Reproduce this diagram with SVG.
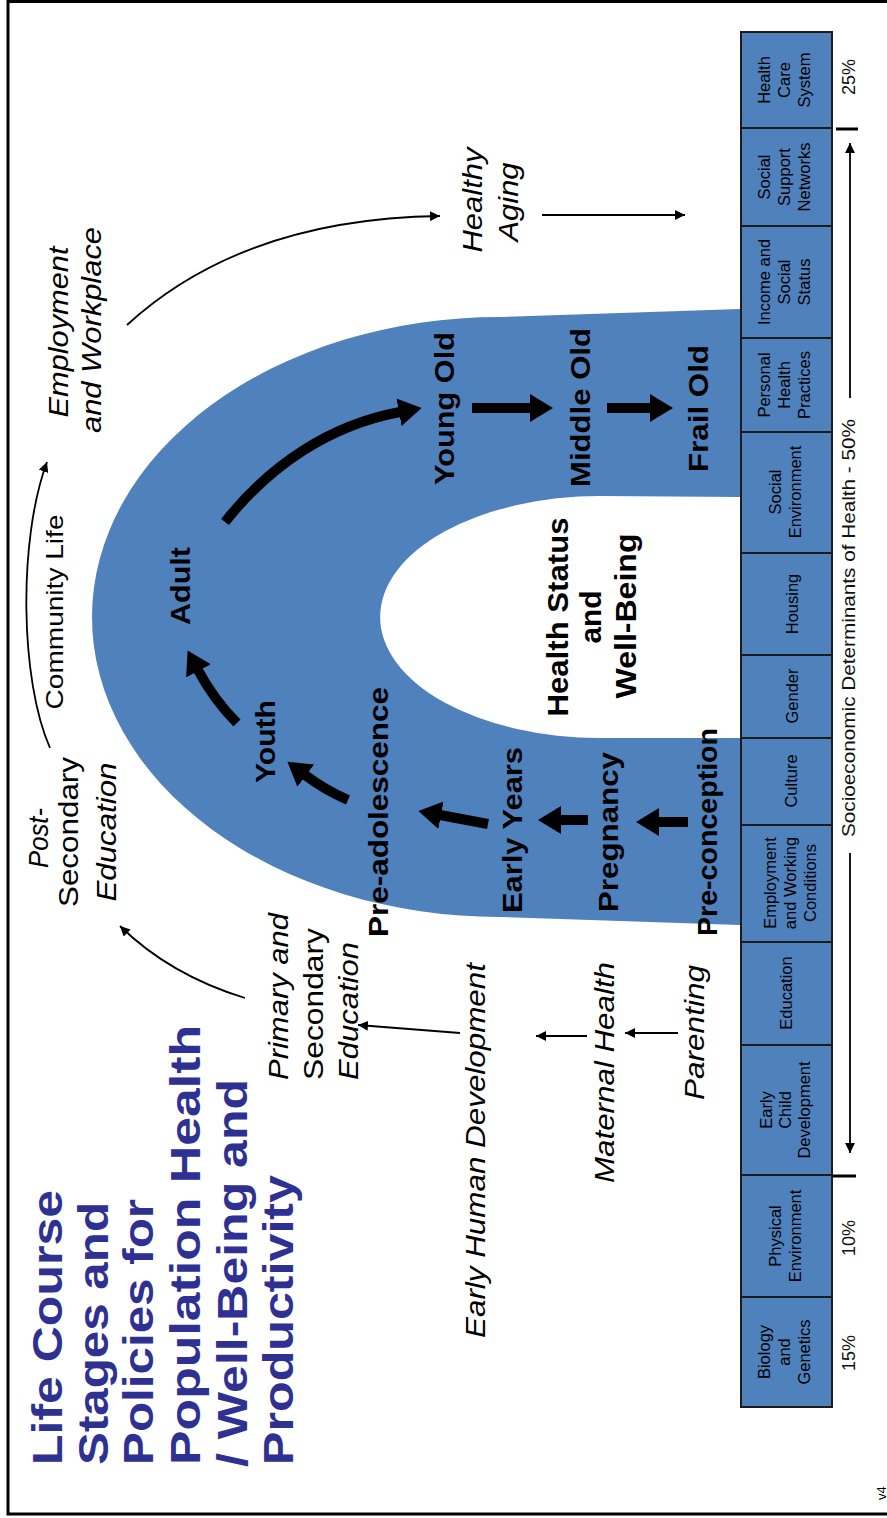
<svg xmlns="http://www.w3.org/2000/svg" width="887" height="1518" viewBox="0 0 887 1518">
<defs>
<style>
text{font-family:"Liberation Sans",Arial,Helvetica,sans-serif;fill:#000;}
.title{font-size:42px;font-weight:bold;fill:#2e3192;}
.stage{font-size:27px;font-weight:bold;}
.pol{font-size:27px;font-style:italic;}
.polu{font-size:27px;}
.cell{font-size:16.5px;text-anchor:middle;}
.pct{font-size:18px;text-anchor:middle;fill:#111;}
.mid{text-anchor:middle;}
.cellbox{fill:#4F81BD;stroke:#1c1c1c;stroke-width:2;}
.thick{stroke:#000;stroke-width:10;fill:none;marker-end:url(#hd);}
.thin{stroke:#000;stroke-width:1.8;fill:none;marker-end:url(#ht);}
.tick{stroke:#000;stroke-width:3;}
</style>
<marker id="hd" markerUnits="userSpaceOnUse" markerWidth="24" markerHeight="28" refX="1" refY="14" orient="auto" viewBox="0 0 24 28">
<path d="M0,0 L23,14 L0,28 Z" fill="#000"/>
</marker>
<marker id="ht" markerUnits="userSpaceOnUse" markerWidth="11" markerHeight="10" refX="10" refY="5" orient="auto" viewBox="0 0 11 10">
<path d="M0,0 L10,5 L0,10 Z" fill="#000"/>
</marker>
</defs>
<rect x="0" y="0" width="887" height="1518" fill="#fff"/>
<rect id="frame" x="8" y="1.5" width="890" height="1512.5" fill="none" stroke="#000" stroke-width="3"/>

<g id="title">
<text class="title" transform="rotate(-90)" x="-1465" y="62" textLength="275" lengthAdjust="spacingAndGlyphs">Life Course</text>
<text class="title" transform="rotate(-90)" x="-1465" y="108" textLength="263" lengthAdjust="spacingAndGlyphs">Stages and</text>
<text class="title" transform="rotate(-90)" x="-1465" y="153" textLength="266" lengthAdjust="spacingAndGlyphs">Policies for</text>
<text class="title" transform="rotate(-90)" x="-1465" y="200" textLength="440" lengthAdjust="spacingAndGlyphs">Population Health</text>
<text class="title" transform="rotate(-90)" x="-1467" y="247" textLength="388" lengthAdjust="spacingAndGlyphs">/ Well-Being and</text>
<text class="title" transform="rotate(-90)" x="-1465" y="293" textLength="290" lengthAdjust="spacingAndGlyphs">Productivity</text>
</g>

<g id="band">
<path d="M740,309 L500,317 A408,300 0 0 0 500,917 L740,925 Z" fill="#4F81BD"/>
<path d="M741,497 L600,496 A220,121 0 0 0 600,738 L741,738 Z" fill="#fff"/>
</g>

<g id="determinants">
<g id="cell-health-care"><rect class="cellbox" x="741" y="32" width="91" height="96"/><text class="cell" transform="rotate(-90)"><tspan x="-80" y="770">Health</tspan><tspan x="-80" y="790">Care</tspan><tspan x="-80" y="810">System</tspan></text></g>
<g id="cell-social-support"><rect class="cellbox" x="741" y="128" width="91" height="98"/><text class="cell" transform="rotate(-90)"><tspan x="-177" y="770">Social</tspan><tspan x="-177" y="790">Support</tspan><tspan x="-177" y="810">Networks</tspan></text></g>
<g id="cell-income"><rect class="cellbox" x="741" y="226" width="91" height="112"/><text class="cell" transform="rotate(-90)"><tspan x="-282" y="770">Income and</tspan><tspan x="-282" y="790">Social</tspan><tspan x="-282" y="810">Status</tspan></text></g>
<g id="cell-personal-health"><rect class="cellbox" x="741" y="338" width="91" height="94"/><text class="cell" transform="rotate(-90)"><tspan x="-385" y="770">Personal</tspan><tspan x="-385" y="790">Health</tspan><tspan x="-385" y="810">Practices</tspan></text></g>
<g id="cell-social-env"><rect class="cellbox" x="741" y="432" width="91" height="121"/><text class="cell" transform="rotate(-90)"><tspan x="-492" y="781">Social</tspan><tspan x="-492" y="801">Environment</tspan></text></g>
<g id="cell-housing"><rect class="cellbox" x="741" y="553" width="91" height="102"/><text class="cell" transform="rotate(-90)" x="-604" y="798">Housing</text></g>
<g id="cell-gender"><rect class="cellbox" x="741" y="655" width="91" height="83"/><text class="cell" transform="rotate(-90)" x="-696" y="798">Gender</text></g>
<g id="cell-culture"><rect class="cellbox" x="741" y="738" width="91" height="87"/><text class="cell" transform="rotate(-90)" x="-781" y="797">Culture</text></g>
<g id="cell-employment"><rect class="cellbox" x="741" y="825" width="91" height="117"/><text class="cell" transform="rotate(-90)"><tspan x="-883" y="776">Employment</tspan><tspan x="-883" y="796">and Working</tspan><tspan x="-883" y="816">Conditions</tspan></text></g>
<g id="cell-education"><rect class="cellbox" x="741" y="942" width="91" height="103"/><text class="cell" transform="rotate(-90)" x="-993" y="792">Education</text></g>
<g id="cell-ecd"><rect class="cellbox" x="741" y="1045" width="91" height="130"/><text class="cell" transform="rotate(-90)"><tspan x="-1110" y="772">Early</tspan><tspan x="-1110" y="791">Child</tspan><tspan x="-1110" y="810">Development</tspan></text></g>
<g id="cell-physical"><rect class="cellbox" x="741" y="1175" width="91" height="122"/><text class="cell" transform="rotate(-90)"><tspan x="-1236" y="781">Physical</tspan><tspan x="-1236" y="801">Environment</tspan></text></g>
<g id="cell-biology"><rect class="cellbox" x="741" y="1297" width="91" height="110"/><text class="cell" transform="rotate(-90)"><tspan x="-1352" y="770">Biology</tspan><tspan x="-1352" y="790">and</tspan><tspan x="-1352" y="810">Genetics</tspan></text></g>
</g>

<g id="percentages">
<text class="pct" transform="rotate(-90)" x="-77" y="855">25%</text>
<text class="pct" transform="rotate(-90)" x="-1238" y="855">10%</text>
<text class="pct" transform="rotate(-90)" x="-1353" y="855">15%</text>
<text class="pct" transform="rotate(-90)" x="-628" y="855" textLength="418" lengthAdjust="spacingAndGlyphs" style="font-size:19px">Socioeconomic Determinants of Health - 50%</text>
<line class="tick" x1="836" y1="129" x2="858" y2="129"/>
<line class="tick" x1="833" y1="1176" x2="856" y2="1176"/>
</g>

<g id="stages">
<g id="young-old"><text class="stage" transform="rotate(-90)" x="-485" y="454" textLength="153" lengthAdjust="spacingAndGlyphs">Young Old</text></g>
<g id="middle-old"><text class="stage" transform="rotate(-90)" x="-487" y="590" textLength="159" lengthAdjust="spacingAndGlyphs">Middle Old</text></g>
<g id="frail-old"><text class="stage" transform="rotate(-90)" x="-472" y="708" textLength="127" lengthAdjust="spacingAndGlyphs">Frail Old</text></g>
<g id="pre-adolescence"><text class="stage" transform="rotate(-90)" x="-937" y="388" textLength="250" lengthAdjust="spacingAndGlyphs">Pre-adolescence</text></g>
<g id="early-years"><text class="stage" transform="rotate(-90)" x="-913" y="522" textLength="166" lengthAdjust="spacingAndGlyphs">Early Years</text></g>
<g id="pregnancy"><text class="stage" transform="rotate(-90)" x="-912" y="618" textLength="160" lengthAdjust="spacingAndGlyphs">Pregnancy</text></g>
<g id="pre-conception"><text class="stage" transform="rotate(-90)" x="-936" y="717" textLength="208" lengthAdjust="spacingAndGlyphs">Pre-conception</text></g>
<g id="youth"><text class="stage" transform="rotate(-90)" x="-783" y="275" textLength="83" lengthAdjust="spacingAndGlyphs">Youth</text></g>
<g id="adult"><text class="stage" transform="rotate(-90)" x="-625" y="190" textLength="78" lengthAdjust="spacingAndGlyphs">Adult</text></g>
<g id="health-status">
<text class="stage mid" transform="rotate(-90)" x="-617" y="568" textLength="199" lengthAdjust="spacingAndGlyphs" style="font-size:29px">Health Status</text>
<text class="stage mid" transform="rotate(-90)" x="-617" y="601" textLength="53" lengthAdjust="spacingAndGlyphs" style="font-size:29px">and</text>
<text class="stage mid" transform="rotate(-90)" x="-616" y="636" textLength="165" lengthAdjust="spacingAndGlyphs" style="font-size:29px">Well-Being</text>
</g>
</g>

<g id="policies">
<g id="employment-workplace">
<text class="pol mid" transform="rotate(-90)" x="-332" y="68" textLength="171" lengthAdjust="spacingAndGlyphs">Employment</text>
<text class="pol mid" transform="rotate(-90)" x="-330" y="101" textLength="206" lengthAdjust="spacingAndGlyphs">and Workplace</text>
</g>
<g id="healthy-aging">
<text class="pol mid" transform="rotate(-90)" x="-200" y="482" textLength="105" lengthAdjust="spacingAndGlyphs">Healthy</text>
<text class="pol mid" transform="rotate(-90)" x="-202" y="518" textLength="79" lengthAdjust="spacingAndGlyphs">Aging</text>
</g>
<g id="community-life">
<text class="polu mid" transform="rotate(-90)" x="-612" y="63" textLength="195" lengthAdjust="spacingAndGlyphs" style="font-size:24px">Community Life</text>
</g>
<g id="post-secondary">
<text class="pol mid" transform="rotate(-90)" x="-838" y="48" textLength="60" lengthAdjust="spacingAndGlyphs">Post-</text>
<text class="polu mid" transform="rotate(-90)" x="-832" y="78" textLength="150" lengthAdjust="spacingAndGlyphs">Secondary</text>
<text class="pol mid" transform="rotate(-90)" x="-832" y="116" textLength="139" lengthAdjust="spacingAndGlyphs">Education</text>
</g>
<g id="primary-secondary">
<text class="pol" transform="rotate(-90)" x="-1080" y="288" textLength="167" lengthAdjust="spacingAndGlyphs">Primary and</text>
<text class="polu" transform="rotate(-90)" x="-1080" y="323" textLength="152" lengthAdjust="spacingAndGlyphs">Secondary</text>
<text class="pol" transform="rotate(-90)" x="-1080" y="358" textLength="138" lengthAdjust="spacingAndGlyphs">Education</text>
</g>
<g id="early-human-development">
<text class="pol" transform="rotate(-90)" x="-1338" y="485" textLength="375" lengthAdjust="spacingAndGlyphs">Early Human Development</text>
</g>
<g id="maternal-health">
<text class="pol" transform="rotate(-90)" x="-1183" y="614" textLength="221" lengthAdjust="spacingAndGlyphs">Maternal Health</text>
</g>
<g id="parenting">
<text class="pol" transform="rotate(-90)" x="-1100" y="704" textLength="135" lengthAdjust="spacingAndGlyphs">Parenting</text>
</g>
</g>

<g id="connectors">
<line class="thick" x1="688" y1="822" x2="658" y2="822"/>
<line class="thick" x1="588" y1="820" x2="560" y2="820"/>
<line class="thick" x1="488" y1="824" x2="440" y2="815"/>
<path class="thick" d="M348,800 Q325,790 305,775"/>
<path class="thick" d="M237,723 Q214,700 198,670"/>
<path class="thick" d="M225,522 C270,465 330,425 400,412"/>
<line class="thick" x1="472" y1="408" x2="531" y2="408"/>
<line class="thick" x1="607" y1="408" x2="651" y2="408"/>

<path class="thin" d="M245,998 Q170,975 120,926"/>
<path class="thin" d="M50,748 C20,680 18,540 47,462"/>
<path class="thin" d="M127,325 C200,258 300,218 440,216"/>
<line class="thin" x1="542" y1="215" x2="685" y2="215"/>
<line class="thin" x1="460" y1="1033" x2="358" y2="1025"/>
<line class="thin" x1="587" y1="1036" x2="536" y2="1036"/>
<line class="thin" x1="678" y1="1033" x2="625" y2="1033"/>
<line class="thin" x1="850" y1="398" x2="850" y2="143"/>
<line class="thin" x1="850" y1="853" x2="850" y2="1153"/>
</g>

<g id="version">
<text transform="rotate(-90)" x="-1500" y="886" style="font-size:13px">v4</text>
</g>
</svg>
